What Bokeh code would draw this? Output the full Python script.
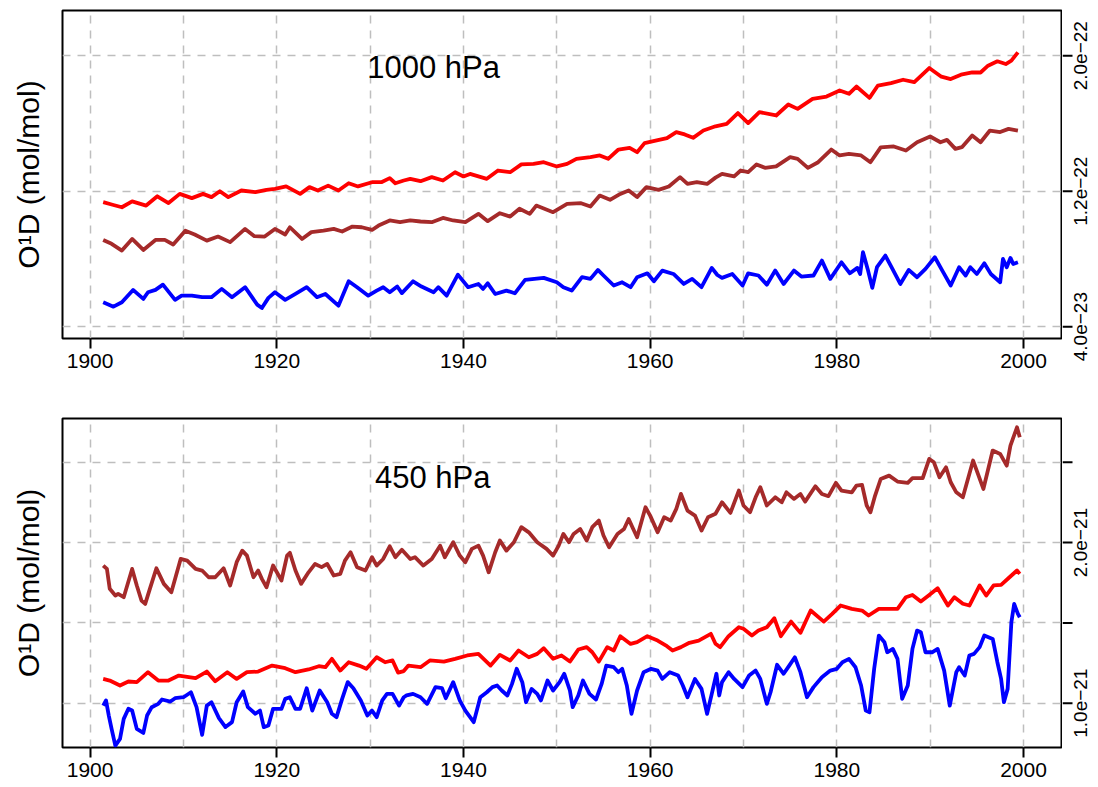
import math
import numpy as np
from bokeh.plotting import figure
from bokeh.models import LinearAxis, FixedTicker, Grid, Label, Range1d
from bokeh.layouts import column, row
from bokeh.core.properties import value
from bokeh.embed import file_html
from bokeh.resources import INLINE

FONT = "Liberation Sans"

# ---------------- data: 1000 hPa (values in units of 1e-22 mol/mol) ----------------
top_red_year = [1901.4, 1902.4, 1903.4, 1904.5, 1906.0, 1907.2, 1908.4, 1909.6, 1910.9, 1912.1, 1913.0, 1913.9,
                1914.8, 1916.2, 1917.7, 1918.9, 1919.8, 1921.0, 1922.5, 1923.5, 1924.4, 1925.5, 1926.6, 1927.7,
                1928.7, 1930.2, 1931.2, 1932.1, 1932.7, 1933.6, 1934.3, 1935.4, 1936.6, 1937.8, 1939.1, 1940.0,
                1940.7, 1942.5, 1943.7, 1945.0, 1946.2, 1947.5, 1948.6, 1950.0, 1951.1, 1952.1, 1953.6, 1954.6,
                1955.5, 1956.6, 1957.8, 1958.6, 1959.4, 1960.7, 1961.8, 1962.8, 1963.7, 1964.6, 1965.7, 1967.0,
                1968.2, 1969.4, 1970.5, 1971.7, 1973.5, 1974.8, 1975.8, 1977.4, 1978.9, 1980.3, 1981.3, 1982.1,
                1983.5, 1984.4, 1985.8, 1987.1, 1988.3, 1989.9, 1991.2, 1992.2, 1993.3, 1994.5, 1995.4, 1996.2,
                1997.2, 1998.1, 1998.7, 1999.4]
top_red_val = [1.135, 1.12, 1.105, 1.14, 1.115, 1.17, 1.13, 1.184, 1.159, 1.184, 1.165, 1.2,
               1.165, 1.204, 1.194, 1.208, 1.214, 1.228, 1.184, 1.224, 1.204, 1.233, 1.204, 1.247,
               1.228, 1.253, 1.253, 1.277, 1.247, 1.263, 1.273, 1.259, 1.283, 1.263, 1.312, 1.287,
               1.302, 1.273, 1.322, 1.312, 1.358, 1.361, 1.371, 1.346, 1.361, 1.391, 1.401, 1.411,
               1.391, 1.446, 1.456, 1.43, 1.484, 1.5, 1.513, 1.549, 1.535, 1.515, 1.558, 1.583,
               1.598, 1.661, 1.602, 1.667, 1.647, 1.712, 1.686, 1.745, 1.759, 1.795, 1.775, 1.818,
               1.751, 1.824, 1.838, 1.858, 1.844, 1.927, 1.876, 1.862, 1.888, 1.901, 1.901, 1.941,
               1.967, 1.951, 1.971, 2.02]

top_brown_year = [1901.4, 1902.3, 1903.4, 1904.5, 1905.7, 1907.0, 1908.0, 1908.9, 1910.2, 1911.2, 1912.5, 1913.7,
                  1915.0, 1916.6, 1917.6, 1918.7, 1919.8, 1920.9, 1921.4, 1922.7, 1923.7, 1925.0, 1926.1, 1927.0,
                  1928.1, 1929.1, 1930.2, 1930.9, 1932.1, 1933.2, 1934.3, 1935.4, 1936.6, 1937.8, 1938.9, 1940.2,
                  1941.6, 1942.6, 1943.9, 1945.0, 1946.0, 1947.1, 1947.8, 1949.6, 1951.1, 1952.6, 1953.6, 1954.6,
                  1955.7, 1956.8, 1957.7, 1958.6, 1959.6, 1960.9, 1962.0, 1963.2, 1964.0, 1965.0, 1966.1, 1967.0,
                  1967.7, 1969.0, 1969.7, 1970.5, 1971.4, 1972.3, 1973.5, 1975.0, 1975.8, 1976.9, 1978.0, 1979.4,
                  1980.3, 1981.3, 1982.6, 1983.6, 1984.7, 1986.1, 1987.4, 1988.6, 1990.0, 1991.1, 1991.8, 1992.7,
                  1993.4, 1994.5, 1995.4, 1996.4, 1997.5, 1998.4, 1999.4]
top_brown_val = [0.912, 0.889, 0.849, 0.918, 0.853, 0.912, 0.912, 0.885, 0.967, 0.944, 0.908, 0.932,
                 0.899, 0.977, 0.934, 0.932, 0.977, 0.944, 0.987, 0.918, 0.958, 0.967, 0.977, 0.962,
                 0.991, 0.987, 0.971, 0.997, 1.027, 1.017, 1.027, 1.021, 1.017, 1.042, 1.027, 1.017,
                 1.066, 1.023, 1.07, 1.05, 1.096, 1.066, 1.115, 1.076, 1.125, 1.129, 1.109, 1.174,
                 1.149, 1.184, 1.204, 1.165, 1.224, 1.208, 1.228, 1.283, 1.243, 1.253, 1.243, 1.28,
                 1.302, 1.287, 1.322, 1.312, 1.358, 1.338, 1.346, 1.401, 1.391, 1.338, 1.371, 1.446,
                 1.411, 1.42, 1.411, 1.371, 1.459, 1.464, 1.44, 1.489, 1.523, 1.489, 1.503, 1.45,
                 1.46, 1.529, 1.489, 1.558, 1.549, 1.568, 1.558]

top_blue_year = [1901.4, 1902.5, 1903.4, 1904.6, 1905.7, 1906.2, 1907.0, 1907.8, 1909.1, 1909.8, 1910.9, 1912.0,
                 1913.0, 1914.1, 1915.2, 1916.6, 1917.9, 1918.4, 1919.1, 1919.8, 1920.9, 1922.0, 1923.2, 1924.3,
                 1925.2, 1926.6, 1927.7, 1928.6, 1929.8, 1930.7, 1931.4, 1932.1, 1932.9, 1933.4, 1934.6, 1935.5,
                 1936.8, 1937.3, 1938.2, 1939.4, 1940.5, 1941.6, 1942.1, 1942.6, 1943.4, 1944.6, 1945.5, 1946.6,
                 1948.6, 1950.0, 1950.7, 1951.6, 1952.7, 1953.6, 1954.4, 1955.0, 1956.1, 1957.0, 1957.9, 1958.6,
                 1959.7, 1960.4, 1961.3, 1962.5, 1963.6, 1964.5, 1965.5, 1966.6, 1967.2, 1967.7, 1968.8, 1969.9,
                 1970.5, 1971.6, 1972.5, 1973.4, 1974.3, 1975.4, 1976.2, 1977.5, 1978.4, 1979.3, 1980.5, 1981.4,
                 1982.2, 1982.5, 1982.8, 1983.3, 1983.8, 1984.3, 1985.2, 1985.9, 1986.8, 1987.7, 1988.6, 1989.5,
                 1990.5, 1991.3, 1992.2, 1993.1, 1993.8, 1994.3, 1995.0, 1995.8, 1996.5, 1997.5, 1997.8, 1998.2,
                 1998.6, 1998.9, 1999.4]
top_blue_val = [0.544, 0.518, 0.544, 0.617, 0.564, 0.603, 0.617, 0.648, 0.558, 0.583, 0.583, 0.574,
                0.574, 0.623, 0.574, 0.633, 0.53, 0.51, 0.57, 0.603, 0.558, 0.593, 0.633, 0.574,
                0.593, 0.524, 0.668, 0.633, 0.583, 0.613, 0.633, 0.603, 0.637, 0.598, 0.668, 0.637,
                0.603, 0.633, 0.583, 0.707, 0.633, 0.652, 0.623, 0.656, 0.593, 0.613, 0.597, 0.676,
                0.688, 0.662, 0.633, 0.613, 0.692, 0.682, 0.735, 0.702, 0.643, 0.662, 0.633, 0.692,
                0.715, 0.668, 0.731, 0.711, 0.652, 0.682, 0.633, 0.747, 0.705, 0.688, 0.711, 0.643,
                0.715, 0.702, 0.648, 0.731, 0.652, 0.731, 0.696, 0.702, 0.79, 0.682, 0.78, 0.715,
                0.747, 0.711, 0.84, 0.741, 0.629, 0.751, 0.82, 0.747, 0.652, 0.735, 0.692, 0.741,
                0.81, 0.731, 0.643, 0.751, 0.702, 0.751, 0.711, 0.774, 0.711, 0.662, 0.8, 0.751,
                0.806, 0.77, 0.78]

# ---------------- data: 450 hPa (values in units of 1e-21 mol/mol) ----------------
bot_brown_year = [1901.4, 1901.8, 1902.1, 1902.7, 1903.0, 1903.6, 1904.5, 1905.0, 1905.5, 1905.9, 1906.4, 1907.1,
                  1907.9, 1908.7, 1909.7, 1910.4, 1911.3, 1912.0, 1912.7, 1913.4, 1914.3, 1915.0, 1915.7, 1916.3,
                  1916.8, 1917.5, 1918.0, 1918.4, 1918.9, 1919.6, 1920.5, 1921.1, 1921.4, 1922.0, 1922.6, 1923.4,
                  1924.1, 1924.8, 1925.4, 1926.1, 1926.8, 1927.3, 1927.9, 1928.6, 1929.5, 1930.2, 1930.7, 1931.4,
                  1932.1, 1932.7, 1933.4, 1934.3, 1934.8, 1935.7, 1936.6, 1937.5, 1938.0, 1938.9, 1939.6, 1940.2,
                  1940.9, 1941.6, 1942.1, 1942.7, 1943.4, 1943.9, 1944.6, 1945.4, 1946.2, 1947.0, 1947.9, 1948.9,
                  1949.6, 1950.2, 1950.7, 1951.3, 1951.8, 1952.5, 1953.2, 1953.8, 1954.5, 1955.0, 1955.6, 1956.5,
                  1957.2, 1957.7, 1958.1, 1958.6, 1959.5, 1960.0, 1960.8, 1961.5, 1962.2, 1962.8, 1963.3, 1964.0,
                  1964.8, 1965.5, 1966.2, 1967.0, 1967.7, 1968.6, 1969.5, 1970.0, 1970.7, 1971.3, 1971.8, 1972.5,
                  1973.4, 1974.1, 1974.6, 1975.4, 1976.1, 1976.6, 1977.7, 1978.4, 1979.1, 1979.9, 1980.5, 1981.6,
                  1982.1, 1982.7, 1983.2, 1983.6, 1984.1, 1984.7, 1985.6, 1986.5, 1987.6, 1988.1, 1989.2, 1989.9,
                  1990.4, 1991.0, 1991.7, 1992.2, 1992.8, 1993.5, 1994.6, 1995.7, 1996.7, 1997.5, 1998.2, 1998.6,
                  1999.3, 1999.6]
bot_brown_val = [1.857, 1.836, 1.712, 1.67, 1.681, 1.66, 1.836, 1.733, 1.639, 1.618, 1.712, 1.84,
                 1.743, 1.691, 1.898, 1.888, 1.836, 1.826, 1.784, 1.784, 1.84, 1.733, 1.878, 1.95,
                 1.919, 1.784, 1.826, 1.774, 1.722, 1.857, 1.764, 1.919, 1.936, 1.826, 1.743, 1.815,
                 1.867, 1.847, 1.867, 1.795, 1.805, 1.888, 1.94, 1.847, 1.826, 1.909, 1.857, 1.898,
                 1.977, 1.909, 1.955, 1.898, 1.909, 1.857, 1.898, 1.981, 1.909, 2.002, 1.919, 1.878,
                 1.961, 1.981, 1.919, 1.815, 1.94, 2.013, 1.95, 2.002, 2.096, 2.064, 2.002, 1.961,
                 1.919, 1.981, 2.054, 2.002, 2.054, 2.085, 2.013, 2.096, 2.137, 2.044, 1.971, 2.054,
                 2.085, 2.147, 2.096, 2.033, 2.22, 2.168, 2.064, 2.158, 2.137, 2.21, 2.303, 2.199,
                 2.168, 2.075, 2.158, 2.18, 2.251, 2.185, 2.324, 2.231, 2.189, 2.282, 2.345, 2.231,
                 2.282, 2.251, 2.313, 2.272, 2.303, 2.255, 2.351, 2.303, 2.289, 2.372, 2.324, 2.313,
                 2.355, 2.359, 2.231, 2.189, 2.293, 2.396, 2.417, 2.38, 2.372, 2.401, 2.401, 2.521,
                 2.5, 2.407, 2.469, 2.376, 2.313, 2.282, 2.511, 2.334, 2.573, 2.552, 2.479, 2.604,
                 2.718, 2.656]

bot_red_year = [1901.4, 1902.1, 1903.2, 1904.1, 1905.0, 1906.2, 1907.3, 1908.4, 1909.5, 1911.3, 1912.5, 1913.4,
                1914.7, 1915.7, 1916.8, 1918.0, 1919.5, 1920.9, 1922.0, 1923.4, 1924.5, 1925.2, 1925.9, 1926.8,
                1927.7, 1928.8, 1929.6, 1930.7, 1931.6, 1932.4, 1933.0, 1933.6, 1934.1, 1935.4, 1936.4, 1937.9,
                1939.1, 1940.4, 1941.6, 1942.9, 1943.9, 1945.0, 1945.9, 1947.0, 1947.9, 1948.6, 1949.6, 1950.5,
                1951.4, 1952.3, 1953.2, 1953.8, 1954.5, 1955.4, 1956.1, 1956.8, 1957.9, 1958.6, 1959.7, 1960.8,
                1961.8, 1962.4, 1963.3, 1964.2, 1965.2, 1966.5, 1967.0, 1967.5, 1968.4, 1969.5, 1970.0, 1970.9,
                1971.6, 1972.5, 1973.3, 1974.0, 1975.1, 1976.1, 1977.2, 1978.6, 1979.5, 1980.4, 1981.6, 1982.7,
                1983.4, 1984.5, 1985.6, 1986.5, 1987.4, 1988.1, 1989.0, 1989.9, 1990.8, 1991.9, 1992.6, 1993.5,
                1994.2, 1995.3, 1996.0, 1996.8, 1997.6, 1998.5, 1999.3, 1999.6]
bot_red_val = [1.151, 1.141, 1.11, 1.135, 1.131, 1.193, 1.141, 1.141, 1.172, 1.156, 1.197, 1.137,
               1.193, 1.151, 1.193, 1.197, 1.234, 1.218, 1.193, 1.21, 1.23, 1.224, 1.276, 1.203,
               1.255, 1.234, 1.214, 1.286, 1.255, 1.266, 1.19, 1.2, 1.234, 1.224, 1.266, 1.259,
               1.276, 1.297, 1.307, 1.234, 1.301, 1.266, 1.328, 1.286, 1.307, 1.342, 1.276, 1.297,
               1.259, 1.334, 1.349, 1.317, 1.259, 1.349, 1.328, 1.417, 1.369, 1.38, 1.417, 1.39,
               1.355, 1.328, 1.349, 1.376, 1.39, 1.432, 1.37, 1.349, 1.417, 1.473, 1.463, 1.421,
               1.452, 1.473, 1.529, 1.417, 1.508, 1.438, 1.577, 1.508, 1.556, 1.608, 1.587, 1.577,
               1.546, 1.587, 1.587, 1.587, 1.66, 1.674, 1.633, 1.674, 1.716, 1.608, 1.66, 1.619,
               1.608, 1.733, 1.67, 1.733, 1.737, 1.784, 1.826, 1.805]

bot_blue_year = [1901.4, 1901.7, 1902.0, 1902.3, 1902.7, 1903.2, 1903.6, 1904.1, 1904.5, 1905.0, 1905.7, 1906.1,
                 1906.6, 1907.3, 1907.7, 1908.6, 1909.1, 1910.0, 1910.8, 1911.4, 1912.0, 1912.5, 1913.0, 1913.8,
                 1914.5, 1915.2, 1915.7, 1916.4, 1916.9, 1917.7, 1918.2, 1918.6, 1919.1, 1919.6, 1920.5, 1920.9,
                 1921.4, 1922.0, 1922.5, 1923.2, 1923.8, 1924.6, 1925.4, 1925.9, 1926.4, 1927.0, 1927.6, 1928.2,
                 1929.0, 1929.7, 1930.2, 1930.7, 1931.3, 1931.8, 1932.4, 1933.1, 1933.6, 1933.9, 1934.6, 1935.4,
                 1936.1, 1937.0, 1937.7, 1938.1, 1938.9, 1939.6, 1940.2, 1941.1, 1941.8, 1942.5, 1943.1, 1943.6,
                 1944.1, 1944.7, 1945.2, 1945.7, 1946.3, 1946.7, 1947.3, 1947.9, 1948.3, 1949.0, 1949.6, 1950.3,
                 1950.8, 1951.4, 1951.7, 1952.3, 1952.8, 1953.5, 1954.2, 1954.8, 1955.3, 1956.1, 1956.6, 1957.0,
                 1957.5, 1958.0, 1958.6, 1959.3, 1960.1, 1960.8, 1961.3, 1962.1, 1963.0, 1963.5, 1964.0, 1964.8,
                 1965.5, 1966.1, 1966.6, 1967.1, 1967.4, 1967.7, 1968.4, 1969.0, 1969.9, 1970.6, 1971.3, 1971.8,
                 1972.5, 1972.9, 1973.6, 1974.3, 1974.9, 1975.5, 1976.1, 1976.8, 1977.5, 1978.4, 1979.3, 1980.0,
                 1980.6, 1981.3, 1982.0, 1982.6, 1983.1, 1983.5, 1984.0, 1984.5, 1985.1, 1985.4, 1986.0, 1986.5,
                 1987.0, 1987.6, 1988.1, 1988.6, 1989.0, 1989.5, 1990.2, 1990.8, 1991.5, 1992.1, 1992.8, 1993.1,
                 1993.7, 1994.2, 1994.7, 1995.3, 1995.8, 1996.7, 1997.2, 1997.6, 1997.9, 1998.3, 1998.7, 1999.0,
                 1999.4, 1999.6]
bot_blue_val = [0.985, 1.017, 0.923, 0.84, 0.736, 0.778, 0.902, 0.965, 0.954, 0.84, 0.815, 0.923,
                0.975, 0.996, 1.023, 1.01, 1.031, 1.037, 1.068, 0.975, 0.803, 0.985, 1.006, 0.907,
                0.851, 0.882, 1.006, 1.073, 0.975, 0.934, 0.954, 0.851, 0.861, 0.965, 0.965, 1.027,
                1.037, 0.965, 0.965, 1.093, 0.954, 1.079, 1.006, 0.934, 0.913, 1.027, 1.131, 1.093,
                1.017, 0.923, 0.954, 0.913, 1.017, 1.058, 1.058, 0.985, 1.037, 1.048, 1.058, 1.037,
                0.996, 1.1, 1.093, 1.031, 1.131, 1.017, 0.954, 0.882, 1.037, 1.068, 1.1, 1.11,
                1.079, 1.048, 1.12, 1.214, 1.131, 1.006, 1.089, 1.058, 1.017, 1.141, 1.079, 1.131,
                1.183, 1.079, 0.975, 1.048, 1.141, 1.058, 1.023, 1.12, 1.234, 1.224, 1.193, 1.214,
                1.11, 0.934, 1.079, 1.193, 1.214, 1.203, 1.151, 1.193, 1.172, 1.11, 1.037, 1.151,
                1.089, 0.934, 1.058, 1.183, 1.048, 1.131, 1.193, 1.151, 1.1, 1.172, 1.203, 1.151,
                0.996, 1.068, 1.239, 1.183, 1.234, 1.286, 1.193, 1.037, 1.1, 1.162, 1.203, 1.214,
                1.255, 1.276, 1.224, 1.11, 0.954, 0.944, 1.214, 1.421, 1.38, 1.317, 1.338, 1.276,
                1.027, 1.11, 1.338, 1.452, 1.442, 1.317, 1.317, 1.338, 1.203, 0.985, 1.193, 1.224,
                1.172, 1.297, 1.307, 1.349, 1.421, 1.4, 1.255, 1.151, 1.006, 1.089, 1.504, 1.618,
                1.556, 1.535]

# axis ticks / labels
x_label_ticks = [1900, 1920, 1940, 1960, 1980, 2000]
x_grid_ticks = [1900, 1910, 1920, 1930, 1940, 1950, 1960, 1970, 1980, 1990, 2000]
top_ticks = [4.0e-23, 1.2e-22, 2.0e-22]
top_tick_labels = ["4.0e\u221223", "1.2e\u221222", "2.0e\u221222"]
bot_ticks = [1.0e-21, 1.5e-21, 2.0e-21, 2.5e-21]
bot_tick_labels = ["1.0e\u221221", "", "2.0e\u221221", ""]
y_label = "O\u00b9D (mol/mol)"

top_scale = 1e-22
bot_scale = 1e-21

COL_RED = "#ff0000"
COL_BROWN = "#a52a2a"
COL_BLUE = "#0000ff"
GRID_COL = "#bebebe"
GRID_DASH = "8 7"
X_START, X_END = 1897.04, 2004.07
STRIP_W = 35       # width of the strip that holds the right-hand ticks and labels
TICK_LEN = 10
LABEL_OFF = 18
EXT = 30           # strip extends below the frame so the lowest label is not cut


def make_panel(yr, ticks, labels, series, title, title_x, title_y, top_border, frame_h, bottom_border):
    p = figure(frame_width=999, frame_height=frame_h,
               x_range=Range1d(X_START, X_END), y_range=Range1d(*yr),
               output_backend="svg", toolbar_location=None, y_axis_location=None,
               min_border_left=62, min_border_right=1,
               min_border_top=top_border, min_border_bottom=bottom_border,
               background_fill_color="white", border_fill_color="white")
    p.outline_line_color = "black"
    p.outline_line_width = 2
    p.outline_line_alpha = 1.0
    for g in p.ygrid:
        g.visible = False

    xa = p.xaxis[0]
    xa.ticker = FixedTicker(ticks=x_label_ticks)
    xa.axis_line_color = None
    xa.major_tick_out = 10
    xa.major_tick_in = 0
    xa.major_tick_line_width = 2
    xa.major_tick_line_color = "black"
    xa.minor_tick_line_color = None
    xa.major_label_text_font = FONT
    xa.major_label_text_font_size = "21px"
    xa.major_label_text_color = "black"
    xa.major_label_standoff = 5

    p.xgrid.ticker = FixedTicker(ticks=x_grid_ticks)
    p.xgrid.grid_line_color = GRID_COL
    p.xgrid.grid_line_dash = GRID_DASH
    p.xgrid.grid_line_width = 1.5

    p.add_layout(Grid(dimension=1, ticker=FixedTicker(ticks=ticks), grid_line_color=GRID_COL,
                      grid_line_dash=GRID_DASH, grid_line_width=1.5))

    la = LinearAxis(ticker=FixedTicker(ticks=[]), axis_label=y_label,
                    axis_line_color=None, major_tick_line_color=None, minor_tick_line_color=None,
                    axis_label_standoff=18, axis_label_text_font=FONT,
                    axis_label_text_font_size="30px", axis_label_text_font_style="normal",
                    axis_label_text_color="black")
    p.add_layout(la, "left")

    for yrs, vals, col, scale in series:
        p.line(yrs, np.array(vals) * scale, line_color=col, line_width=3.8, line_join="round")

    p.add_layout(Label(x=title_x, y=title_y, text=title, text_align="center",
                       text_baseline="middle", text_font=FONT, text_font_size="31px",
                       text_color="black"))

    # right-hand strip: tick marks and rotated tick labels (reading upwards)
    upp = (yr[1] - yr[0]) / frame_h
    s = figure(frame_width=STRIP_W, frame_height=frame_h + EXT,
               x_range=Range1d(0, STRIP_W), y_range=Range1d(yr[0] - EXT * upp, yr[1]),
               output_backend="svg", toolbar_location=None,
               x_axis_location=None, y_axis_location=None,
               min_border_left=0, min_border_right=0,
               min_border_top=top_border, min_border_bottom=bottom_border - EXT,
               background_fill_color="white", border_fill_color="white")
    s.outline_line_color = None
    s.grid.visible = False
    s.segment(x0=[0] * len(ticks), y0=ticks, x1=[TICK_LEN] * len(ticks), y1=ticks,
              line_color="black", line_width=2)
    lab_y = [t for t, l in zip(ticks, labels) if l]
    lab_t = [l for l in labels if l]
    s.text(x=[LABEL_OFF] * len(lab_y), y=lab_y, text=lab_t, angle=math.pi / 2,
           text_align="center", text_baseline="middle", text_font=value(FONT),
           text_font_size="19px", text_color="black")
    return row(p, s, spacing=0)


r1 = make_panel((3.30e-23, 2.267e-22), top_ticks, top_tick_labels,
                [(top_red_year, top_red_val, COL_RED, top_scale),
                 (top_brown_year, top_brown_val, COL_BROWN, top_scale),
                 (top_blue_year, top_blue_val, COL_BLUE, top_scale)],
                "1000 hPa", 1936.8, 1.93e-22, 10, 328, 70)

r2 = make_panel((7.24e-22, 2.7727e-21), bot_ticks, bot_tick_labels,
                [(bot_brown_year, bot_brown_val, COL_BROWN, bot_scale),
                 (bot_red_year, bot_red_val, COL_RED, bot_scale),
                 (bot_blue_year, bot_blue_val, COL_BLUE, bot_scale)],
                "450 hPa", 1936.7, 2.405e-21, 10, 329, 36)

layout = column(r1, r2, spacing=0)
open("out.html", "w").write(file_html(layout, INLINE))
